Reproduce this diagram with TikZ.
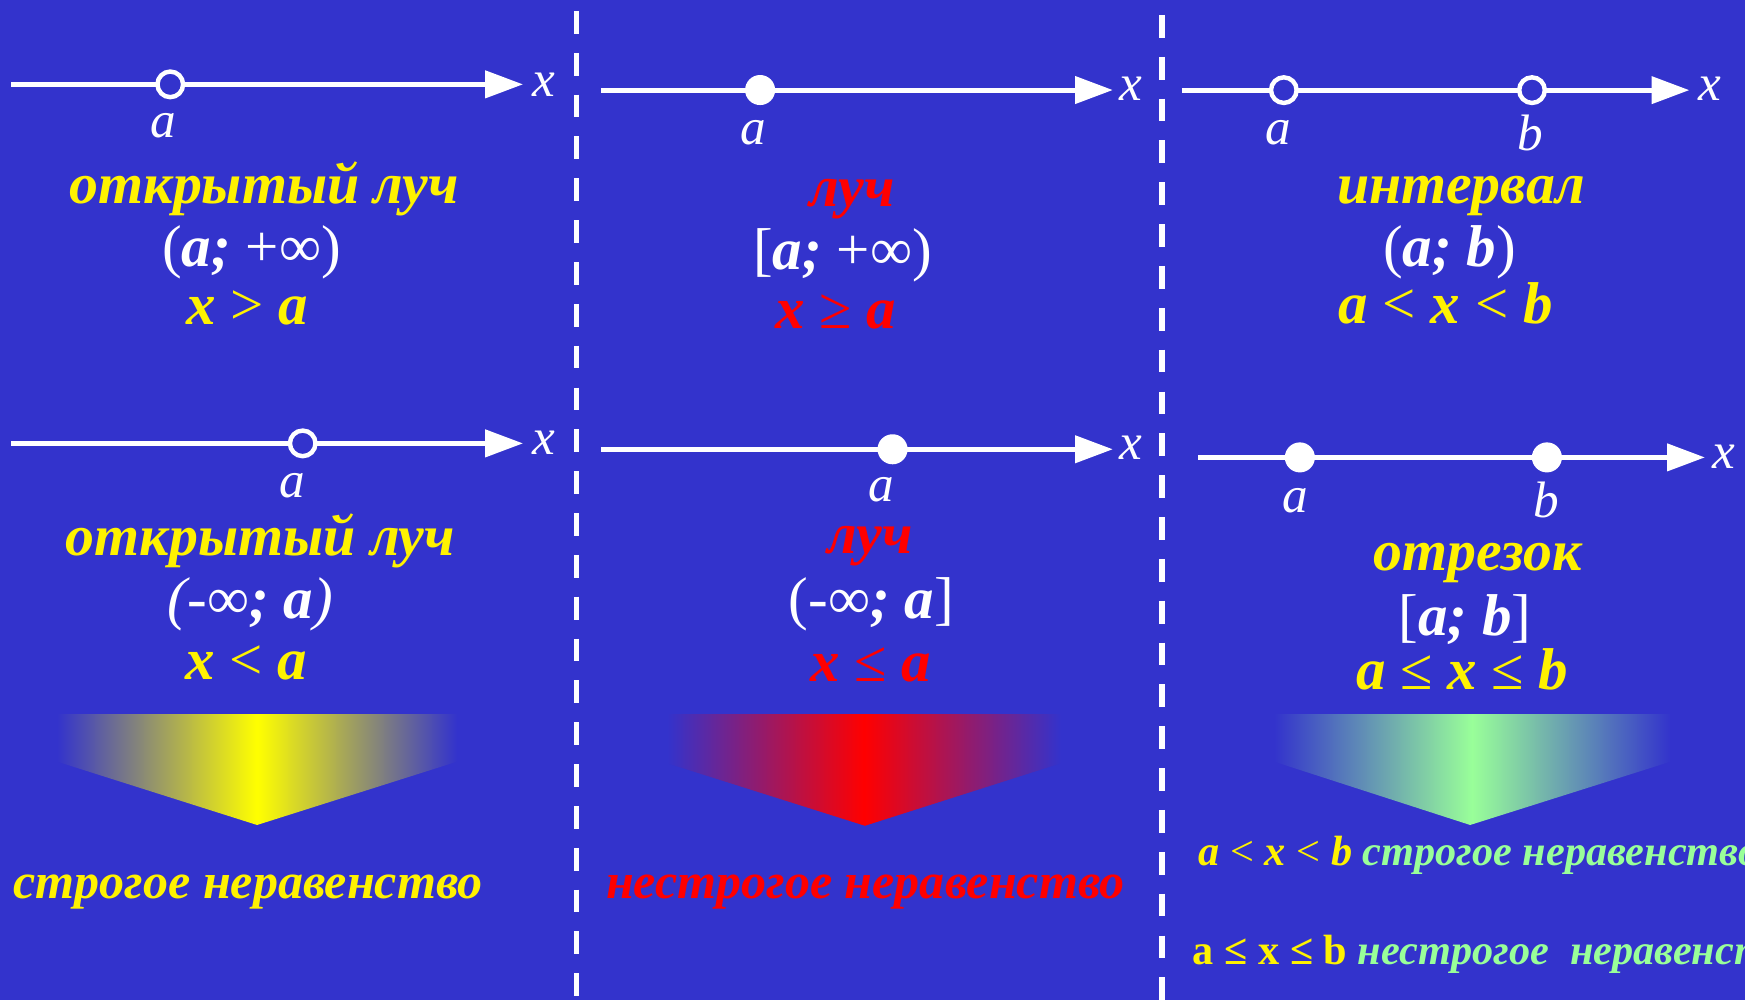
\documentclass[tikz,border=0pt]{standalone}
\usepackage{fontspec}
\setmainfont{Liberation Serif}
\usetikzlibrary{arrows.meta}
\definecolor{bg}{RGB}{51,51,204}
\definecolor{pgreen}{RGB}{153,255,153}
\newcommand\bi[1]{{\bfseries\itshape #1}}
\begin{document}
\begin{tikzpicture}[x=1pt,y=-1pt,
  axis/.style={white, line width=4.5pt, -{Triangle[length=34pt,width=24pt]}},
  opendot/.style={circle, draw=white, line width=4pt, fill=bg, minimum size=23pt, inner sep=0pt},
  fulldot/.style={circle, fill=white, minimum size=27pt, inner sep=0pt},
  lbl/.style={text=white, font=\fontsize{46}{46}\selectfont\itshape, anchor=base, inner sep=0pt},
  ttl/.style={font=\fontsize{52}{52}\selectfont\bfseries\itshape, anchor=base, inner sep=0pt},
  frm/.style={text=white, font=\fontsize{53}{53}\selectfont, anchor=base, inner sep=0pt},
  ineq/.style={font=\fontsize{53}{53}\selectfont, anchor=base, inner sep=0pt},
  bottomtxt/.style={font=\fontsize{45}{45}\selectfont\bfseries\itshape, anchor=base, inner sep=0pt},
  sidetxt/.style={font=\fontsize{38}{38}\selectfont, anchor=base west, inner sep=0pt},
  divider/.style={white, line width=5pt, dash pattern=on 20.5pt off 17.1pt},
]
\useasboundingbox (0,0) rectangle (1568,899);
\fill[bg] (0,0) rectangle (1568,899);

% dividers
\coordinate (d1t) at (518,0); \coordinate (d1b) at (518,899);
\coordinate (d2t) at (1044,0); \coordinate (d2b) at (1044,899);
\draw[divider, dash phase=27.8pt] (d1t) -- (d1b);
\draw[divider, dash phase=24.2pt] (d2t) -- (d2b);

% ---------- Row 1 ----------
\coordinate (s11) at (10,75.8); \coordinate (e11) at (470,75.8);
\draw[axis] (s11) -- (e11);
\node[opendot] (p11) at (153,75.8) {};
\node[lbl] (la11) at (147,124) {a};
\node[lbl] (lx11) at (489,87) {x};
\node[ttl, text=yellow] (t11) at (237.5,182.6) {открытый луч};
\node[frm] (f11) at (226,239.6) {(\bi{a;} +∞)};
\node[ineq, text=yellow] (i11) at (222,292) {\bi{x} > \bi{a}};

\coordinate (s12) at (540,80.9); \coordinate (e12) at (1000,80.9);
\draw[axis] (s12) -- (e12);
\node[fulldot] (p12) at (683,80.9) {};
\node[lbl] (la12) at (677,129.5) {a};
\node[lbl] (lx12) at (1016,90.5) {x};
\node[ttl, text=red] (t12) at (765.6,185.7) {луч};
\node[frm] (f12) at (757,242.6) {[\bi{a;} +∞)};
\node[ineq, text=red] (i12) at (751,295) {\bi{x} ≥ \bi{a}};

\coordinate (s13) at (1062,81); \coordinate (e13) at (1518,81);
\draw[axis] (s13) -- (e13);
\node[opendot] (p13a) at (1153.6,81) {};
\node[opendot] (p13b) at (1376.6,81) {};
\node[lbl] (la13) at (1148.6,130) {a};
\node[lbl] (lb13) at (1375,134.8) {b};
\node[lbl] (lx13) at (1536,90.5) {x};
\node[ttl, text=yellow] (t13) at (1313,182.6) {интервал};
\node[frm] (f13) at (1302.6,239.6) {(\bi{a; b})};
\node[ineq, text=yellow] (i13) at (1299,290.5) {\bi{a} < \bi{x} < \bi{b}};

% ---------- Row 2 ----------
\coordinate (s21) at (10,398.4); \coordinate (e21) at (470,398.4);
\draw[axis] (s21) -- (e21);
\node[opendot] (p21) at (272,398.4) {};
\node[lbl] (la21) at (262.6,446.8) {a};
\node[lbl] (lx21) at (489,408.8) {x};
\node[ttl, text=yellow] (t21) at (234,498.7) {открытый луч};
\node[frm] (f21) at (225,555.6) {{\itshape(}-∞\bi{; a}{\itshape)}};
\node[ineq, text=yellow] (i21) at (221,611) {\bi{x} < \bi{a}};

\coordinate (s22) at (540,403.7); \coordinate (e22) at (1000,403.7);
\draw[axis] (s22) -- (e22);
\node[fulldot] (p22) at (802,403.7) {};
\node[lbl] (la22) at (792,450.8) {a};
\node[lbl] (lx22) at (1016,413.3) {x};
\node[ttl, text=red] (t22) at (782,497.2) {луч};
\node[frm] (f22) at (783,555.5) {(-∞\bi{; a}]};
\node[ineq, text=red] (i22) at (782.6,612.5) {\bi{x} ≤ \bi{a}};

\coordinate (s23) at (1076.5,411); \coordinate (e23) at (1532,411);
\draw[axis] (s23) -- (e23);
\node[fulldot] (p23a) at (1168,411) {};
\node[fulldot] (p23b) at (1390,411) {};
\node[lbl] (la23) at (1163.6,460.7) {a};
\node[lbl] (lb23) at (1389.7,464.6) {b};
\node[lbl] (lx23) at (1549,420.6) {x};
\node[ttl, text=yellow] (t23) at (1328,512.8) {отрезок};
\node[frm] (f23) at (1316.5,570.6) {[\bi{a; b}]};
\node[ineq, text=yellow] (i23) at (1314,620) {\bi{a} ≤ \bi{x} ≤ \bi{b}};

% ---------- gradient arrows ----------
\shade[left color=bg, right color=bg, middle color=yellow]
  (51.5,641.6) -- (410.6,641.6) -- (410.6,684.4) -- (231,741.3) -- (51.5,684.4) -- cycle;
\shade[left color=bg, right color=bg, middle color=red]
  (599.4,641.6) -- (953.4,641.6) -- (953.4,685.8) -- (777.2,742) -- (599.4,685.8) -- cycle;
\shade[left color=bg, right color=bg, middle color=pgreen]
  (1145,641.6) -- (1501,641.6) -- (1501,684.4) -- (1321,741.3) -- (1145,684.4) -- cycle;

% ---------- bottom texts ----------
\node[bottomtxt, text=yellow] (b1) at (223,807.8) {строгое неравенство};
\node[bottomtxt, text=red] (b2) at (777.6,807.8) {нестрогое неравенство};
\node[sidetxt] (b3) at (1077,777.3) {{\color{yellow}\bi{a} < \bi{x} < \bi{b}} {\color{pgreen}\bi{строгое неравенство}}};
\node[sidetxt] (b4) at (1071.6,867) {{\color{yellow}\bfseries a ≤ x ≤ b} {\color{pgreen}\bi{нестрогое\ \ неравенство}}};
\end{tikzpicture}
\end{document}
